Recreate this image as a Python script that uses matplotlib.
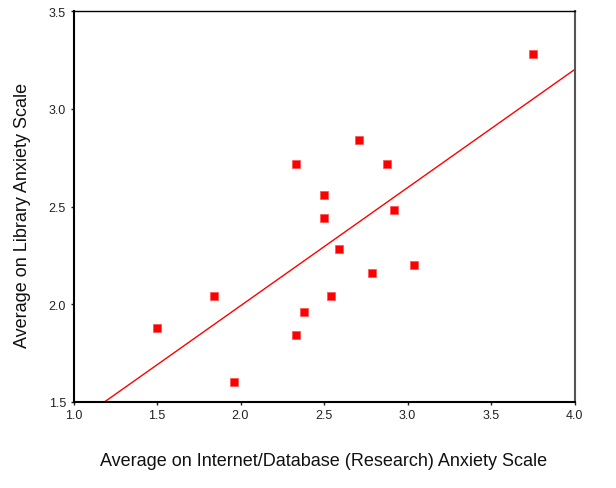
import numpy as np
from matplotlib import pyplot as plt

plt.rcParams['font.family'] = ['Liberation Sans', 'DejaVu Sans']

internet = [1.50, 1.84, 1.96, 2.33, 2.33, 2.38, 2.50, 2.50, 2.54, 2.59,
            2.71, 2.79, 2.88, 2.92, 3.04, 3.75]
library = [1.88, 2.04, 1.60, 2.72, 1.84, 1.96, 2.56, 2.44, 2.04, 2.28,
           2.84, 2.16, 2.72, 2.48, 2.20, 3.28]
xticks = [1.0, 1.5, 2.0, 2.5, 3.0, 3.5, 4.0]
yticks = [1.5, 2.0, 2.5, 3.0, 3.5]

x = np.array(internet)
y = np.array(library)
slope, intercept = np.polyfit(x, y, 1)

fig = plt.figure(figsize=(6.16, 4.89), dpi=100)
ax = fig.add_axes([73.5 / 616, 1 - 402.7 / 489, 501 / 616, 390.4 / 489])

line_x = np.array([1.0, 4.0])
ax.plot(line_x, intercept + slope * line_x, color='#ff0000', lw=1.0)
ax.plot(x, y, 's', color='#ff0000', markersize=5.5, markeredgecolor='#ff5050',
        markeredgewidth=0.5)

ax.set_xlim(1.0, 4.0)
ax.set_ylim(1.5, 3.5)
ax.set_xticks(xticks)
ax.set_yticks(yticks)
ax.set_xticklabels(['%.1f' % t for t in xticks])
ax.set_yticklabels(['%.1f' % t for t in yticks])
ax.tick_params(direction='out', length=2.5, width=1, labelsize=9, pad=3,
               colors='#222222')

ax.spines['left'].set_linewidth(1.5)
ax.spines['bottom'].set_linewidth(1.5)
ax.spines['top'].set_linewidth(1.0)
ax.spines['right'].set_color('#555555')
ax.spines['right'].set_linewidth(1.5)

fig.text(324 / 616, 1 - 466 / 489, 'Average on Internet/Database (Research) Anxiety Scale',
         ha='center', va='baseline', fontsize=13, color='#111111')
fig.text(22.5 / 616, 1 - 215 / 489, 'Average on Library Anxiety Scale',
         ha='center', va='center', rotation=90, fontsize=13, color='#111111')

fig.savefig('out.png', dpi=100)
